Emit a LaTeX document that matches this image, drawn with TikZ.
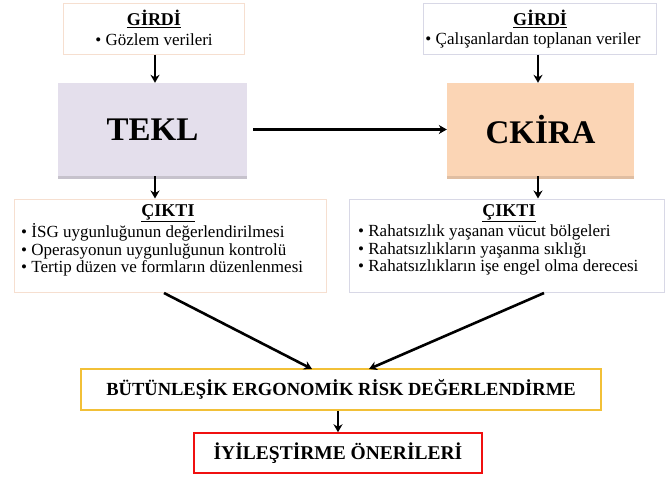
\documentclass[tikz,border=0pt]{standalone}
\usepackage{fontspec}
\setmainfont{Liberation Serif}
\usetikzlibrary{arrows.meta}
\definecolor{peachline}{HTML}{F6DFD0}
\definecolor{lavline}{HTML}{D8D8E6}
\definecolor{teklfill}{HTML}{E4DFEC}
\definecolor{teklshadow}{HTML}{C6C2CC}
\definecolor{ckirafill}{HTML}{FBD5B5}
\definecolor{ckirashadow}{HTML}{E0BEA2}
\definecolor{goldline}{HTML}{F2C037}
\definecolor{redline}{HTML}{F01010}
\tikzset{
  box/.style={draw, rectangle, inner sep=0pt, line width=1pt},
  bigbox/.style={rectangle, inner sep=0pt, font=\fontsize{33}{36}\selectfont\bfseries},
  listtext/.style={inner sep=0pt, align=left, anchor=west, font=\fontsize{17}{17.5}\selectfont},
  titletext/.style={inner sep=0pt, font=\fontsize{18}{19}\selectfont\bfseries},
  arr/.style={-{Stealth[length=8pt,width=9pt]}, line width=2.6pt, black},
}
\begin{document}
\begin{tikzpicture}[x=1pt,y=-1pt]
\useasboundingbox (0,0) rectangle (667,477);
% input boxes
\node[box, draw=peachline, minimum width=181pt, minimum height=51pt] (gin1) at (153.5,28.5) {};
\node[box, draw=lavline, minimum width=233pt, minimum height=51pt] (gin2) at (539.5,28.5) {};
\node[titletext] (gt1) at (154,19) {\underline{GİRDİ}};
\node[inner sep=0pt, font=\fontsize{17}{17.5}\selectfont] (gl1) at (154,40) {• Gözlem verileri};
\node[titletext] (gt2) at (540,19) {\underline{GİRDİ}};
\node[inner sep=0pt, font=\fontsize{17}{17.5}\selectfont] (gl2) at (533,40) {• Çalışanlardan toplanan veriler};
% method boxes
\node[bigbox, fill=teklfill, minimum width=189pt, minimum height=93pt,
  preaction={fill=teklshadow, transform canvas={yshift=-3pt}}] (tekl) at (152.5,129.5) {TEKL};
\node[bigbox, fill=ckirafill, minimum width=187pt, minimum height=93pt,
  preaction={fill=ckirashadow, transform canvas={yshift=-3pt}}] (ckira) at (540.5,129.5) {CKİRA};
% output boxes
\node[box, draw=peachline, minimum width=312pt, minimum height=93pt] (out1) at (170,245.5) {};
\node[box, draw=lavline, minimum width=315pt, minimum height=93pt] (out2) at (506.5,245.5) {};
\node[titletext] (ot1) at (168,213) {\underline{ÇIKTI}};
\node[titletext] (ot2) at (509,213) {\underline{ÇIKTI}};
\node[listtext] (ol1) at (21,250) {• İSG uygunluğunun değerlendirilmesi\\• Operasyonun uygunluğunun kontrolü\\• Tertip düzen ve formların düzenlenmesi};
\node[listtext] (ol2) at (358,250) {• Rahatsızlık yaşanan vücut bölgeleri\\• Rahatsızlıkların yaşanma sıklığı\\• Rahatsızlıkların işe engel olma derecesi};
% result boxes
\node[box, draw=goldline, line width=1.5pt, minimum width=520pt, minimum height=41pt, font=\fontsize{18.5}{20}\selectfont\bfseries] (bute) at (341,389.5) {BÜTÜNLEŞİK ERGONOMİK RİSK DEĞERLENDİRME};
\node[box, draw=redline, line width=1.5pt, minimum width=288pt, minimum height=40pt, font=\fontsize{19.5}{21}\selectfont\bfseries] (iyi) at (338,453) {İYİLEŞTİRME ÖNERİLERİ};
% connector points
\coordinate (a1) at (164,293);
\coordinate (a2) at (312,369);
\coordinate (b1) at (544,293);
\coordinate (b2) at (369,369);
% arrows
\draw[arr] (gin1.south -| 155,0) -- (tekl.north -| 155,0);
\draw[arr] (gin2.south -| 538,0) -- (ckira.north -| 538,0);
\draw[arr] ([xshift=6pt]tekl.east) -- (ckira.west);
\draw[arr] (tekl.south -| 155,0) -- (out1.north -| 155,0);
\draw[arr] (ckira.south -| 538,0) -- (out2.north -| 538,0);
\draw[arr] (a1) -- (a2);
\draw[arr] (b1) -- (b2);
\draw[arr] (bute.south -| 338,0) -- (iyi.north -| 338,0);
\end{tikzpicture}
\end{document}
